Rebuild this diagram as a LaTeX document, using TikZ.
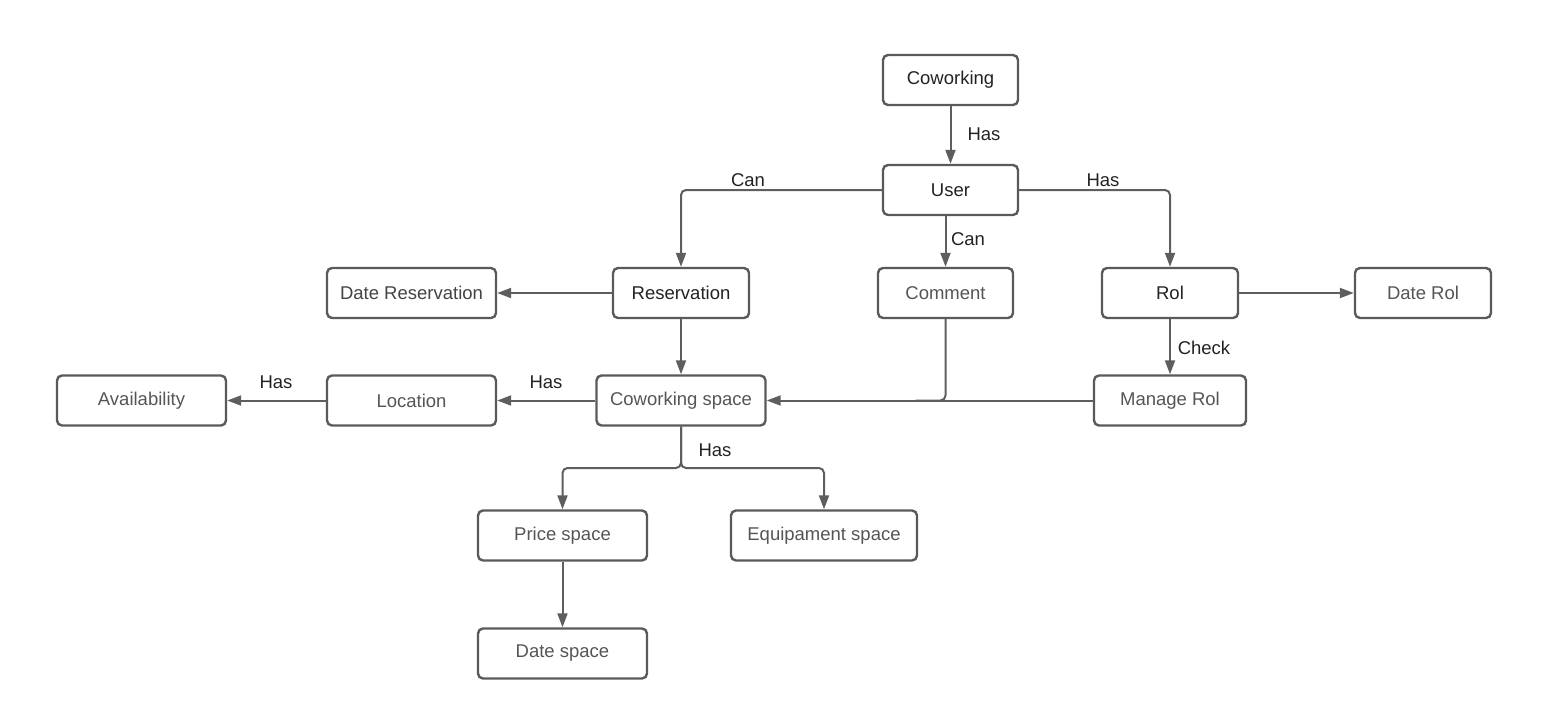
\documentclass[tikz,border=0pt]{standalone}
\usepackage{fontspec}
\setmainfont{Liberation Sans}
\usetikzlibrary{arrows.meta}
\definecolor{edgec}{HTML}{5E5E5E}
\definecolor{boxc}{HTML}{5A5A5A}
\definecolor{darktxt}{HTML}{222222}
\definecolor{greytxt}{HTML}{555555}
\begin{document}
\begin{tikzpicture}[x=1pt,y=-1pt,
  box/.style={draw=boxc, line width=2.4pt, rounded corners=5pt, minimum height=50pt, inner sep=0pt,
    font=\fontsize{18.5}{22}\selectfont, text=darktxt},
  gbox/.style={box, text=greytxt},
  conn/.style={draw=edgec, line width=2pt, -{Triangle[length=14pt,width=10pt]}, rounded corners=5pt},
  plain/.style={draw=edgec, line width=2pt, rounded corners=5pt},
  lbl/.style={font=\fontsize{18.5}{22}\selectfont, text=darktxt, inner sep=0pt}]
\useasboundingbox (0,0) rectangle (1551,717);
\node[box, minimum width=135pt] (cow) at (950.5,80) {Coworking};
\node[box, minimum width=135pt] (user) at (950.5,190) {User};
\node[box, minimum width=136pt] (res) at (681,293) {Reservation};
\node[gbox, minimum width=135pt] (com) at (945.5,293) {Comment};
\node[box, minimum width=136pt] (rol) at (1170,293) {Rol};
\node[gbox, minimum width=136pt] (drol) at (1423,293) {Date Rol};
\node[box, minimum width=169pt, text=darktxt!85!white] (dres) at (411.5,293) {Date Reservation};
\node[gbox, minimum width=169pt] (cs) at (681,400.5) {Coworking space};
\node[gbox, minimum width=169pt] (loc) at (411.5,400.5) {Location};
\node[gbox, minimum width=169pt] (av) at (141.5,400.5) {Availability};
\node[gbox, minimum width=152pt] (mrol) at (1170,400.5) {Manage Rol};
\node[gbox, minimum width=169pt] (ps) at (562.5,535.5) {Price space};
\node[gbox, minimum width=186pt] (es) at (824,535.5) {Equipament space};
\node[gbox, minimum width=169pt] (ds) at (562.5,653.5) {Date space};

\draw[conn] (cow) -- (user);
\node[lbl] (l1) at (984,134) {Has};
\draw[conn] (user.west) -| (res.north);
\node[lbl] (l2) at (748,180) {Can};
\draw[conn] (user.east) -| (rol.north);
\node[lbl] (l3) at (1103,180) {Has};
\draw[conn] (com.north |- user.south) -- (com.north);
\node[lbl] (l4) at (968,239) {Can};
\draw[conn] (res.west) -- (dres.east);
\draw[conn] (res.south) -- (cs.north);
\draw[conn] (rol.east) -- (drol.west);
\draw[conn] (rol.south) -- (mrol.north);
\node[lbl] (l5) at (1204,348) {Check};
\draw[conn] (mrol.west) -- (cs.east);
\draw[plain] (com.south) |- ([xshift=-30pt]com.south |- cs.east);
\draw[conn] (cs.west) -- (loc.east);
\node[lbl] (l6) at (546,382) {Has};
\draw[conn] (loc.west) -- (av.east);
\node[lbl] (l7) at (276,382) {Has};
\coordinate (fork) at (681,468);
\draw[conn] (cs.south) |- (fork) -| (ps.north);
\draw[conn] (cs.south) |- (fork) -| (es.north);
\node[lbl] (l8) at (715,450) {Has};
\draw[conn] (ps.south) -- (ds.north);
\end{tikzpicture}
\end{document}
